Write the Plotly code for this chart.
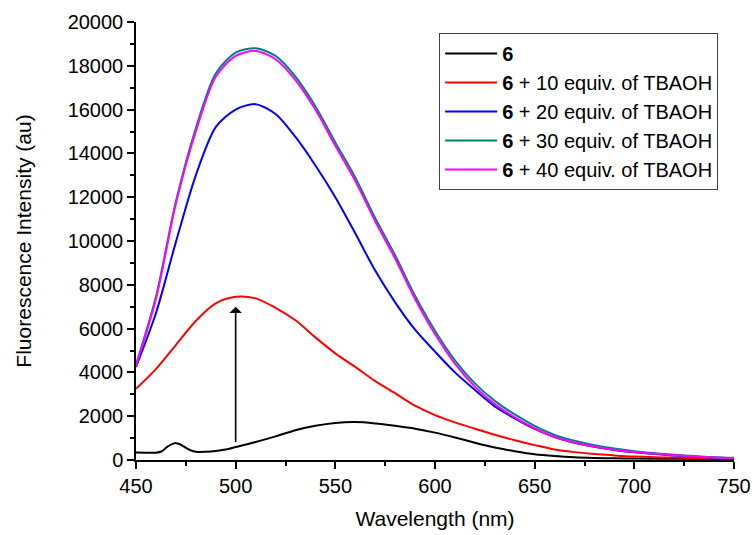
import plotly.graph_objects as go

# Wavelength grid (nm) for titration spectra
wl = [450, 460, 470, 480, 490, 500, 510, 520, 530, 540, 550, 560, 570, 580, 590,
      600, 610, 620, 630, 640, 650, 660, 670, 680, 690, 700, 710, 720, 730, 740, 750]

# Free compound 6 (finer sampling around the small band at ~470 nm)
wl_6 = [450, 455, 460, 463, 466, 469, 470, 472, 475, 478, 481, 485, 490, 495, 500,
        510, 520, 530, 540, 550, 560, 570, 580, 590, 600, 610, 620, 630, 640, 650,
        660, 670, 680, 690, 700, 720, 750]
i_6 = [340, 335, 330, 400, 620, 760, 770, 720, 560, 420, 370, 375, 410, 480, 590,
       820, 1080, 1360, 1560, 1690, 1730, 1670, 1560, 1430, 1250, 1030, 790, 570, 400, 260,
       180, 125, 95, 75, 65, 55, 50]

i_10 = [3250, 4150, 5250, 6350, 7150, 7450, 7380, 6950, 6380, 5600, 4870, 4250, 3600, 3050, 2480,
        2050, 1720, 1430, 1150, 900, 680, 480, 360, 270, 210, 160, 130, 110, 95, 85, 75]
i_20 = [4250, 6700, 9950, 13000, 15200, 16000, 16250, 15800, 14750, 13450, 12000, 10350, 8650, 7200, 5950,
        4950, 4000, 3200, 2450, 1900, 1420, 1050, 790, 600, 460, 350, 280, 210, 150, 110, 80]
i_30 = [4350, 7450, 11800, 15150, 17650, 18600, 18800, 18450, 17500, 16150, 14500, 12900, 11050, 9350, 7500,
        5900, 4550, 3500, 2700, 2080, 1560, 1150, 880, 680, 520, 400, 310, 240, 180, 130, 100]
i_40 = [4300, 7350, 11700, 15000, 17500, 18450, 18680, 18300, 17350, 16000, 14350, 12750, 10900, 9200, 7350,
        5750, 4400, 3350, 2550, 1950, 1450, 1050, 800, 620, 470, 360, 290, 220, 160, 110, 80]

names = ["<b>6</b>",
         "<b>6</b> + 10 equiv. of TBAOH",
         "<b>6</b> + 20 equiv. of TBAOH",
         "<b>6</b> + 30 equiv. of TBAOH",
         "<b>6</b> + 40 equiv. of TBAOH"]
colors = ["#000000", "#FF0000", "#0000FF", "#008080", "#FF00FF"]

# Arrow (titration direction)
arrow_x = 500
arrow_from = 750
arrow_to = 7000

series = [(wl_6, i_6), (wl, i_10), (wl, i_20), (wl, i_30), (wl, i_40)]

fig = go.Figure()
for (xs, ys), name, col in zip(series, names, colors):
    fig.add_trace(go.Scatter(x=xs, y=ys, mode="lines", name=name,
                             line=dict(color=col, width=2, shape="spline", smoothing=0.8)))

fig.add_annotation(x=arrow_x, y=arrow_to, ax=arrow_x, ay=arrow_from,
                   xref="x", yref="y", axref="x", ayref="y",
                   text="", showarrow=True, arrowhead=1, arrowsize=1.3,
                   arrowwidth=1.6, arrowcolor="black")

font_family = "Liberation Sans, Arial, sans-serif"
fig.update_layout(
    width=754, height=535,
    margin=dict(l=136, r=20, t=22, b=75, autoexpand=False),
    paper_bgcolor="white", plot_bgcolor="white",
    font=dict(family=font_family, size=21, color="black"),
    showlegend=True,
    legend=dict(x=0.507, y=0.975, xanchor="left", yanchor="top",
                bgcolor="white", bordercolor="#404040", borderwidth=1,
                font=dict(size=20), itemwidth=52, tracegroupgap=0,
                entrywidth=250, entrywidthmode="pixels"),
    xaxis=dict(range=[450, 750], dtick=50, tick0=450, showgrid=False, zeroline=False,
               showline=True, linecolor="black", linewidth=1.5, mirror=False,
               ticks="outside", ticklen=7, tickwidth=1.5, tickcolor="black",
               minor=dict(dtick=25, ticks="outside", ticklen=4, tickwidth=1.5, tickcolor="black"),
               title=dict(text="Wavelength (nm)", standoff=16, font=dict(size=21)),
               tickfont=dict(size=20), automargin=False),
    yaxis=dict(range=[0, 20000], dtick=2000, showgrid=False, zeroline=False,
               showline=True, linecolor="black", linewidth=1.5, mirror=False,
               ticks="outside", ticklen=7, tickwidth=1.5, tickcolor="black",
               minor=dict(dtick=1000, ticks="outside", ticklen=4, tickwidth=1.5, tickcolor="black"),
               title=dict(text="Fluorescence Intensity (au)", standoff=30, font=dict(size=21)),
               tickfont=dict(size=20), tickformat="d", automargin=False),
)

fig.write_html("out.html")
